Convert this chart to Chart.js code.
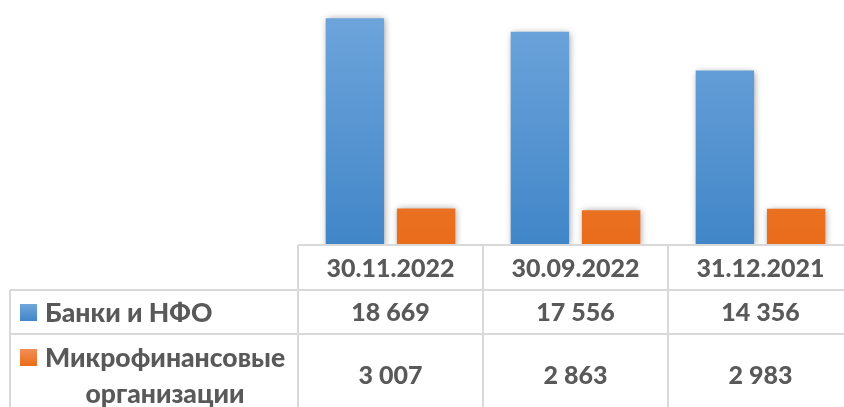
<!DOCTYPE html>
<html>
<head>
<meta charset="utf-8">
<script src="https://cdn.jsdelivr.net/npm/chart.js@4"></script>
<style>
  html, body { margin: 0; padding: 0; background: #fff; overflow: hidden; }
  #wrap { width: 856px; height: 407px; position: relative; }
</style>
</head>
<body>
<div id="wrap"><canvas id="chart"></canvas></div>
<script>
// data
var categories = ['30.11.2022', '30.09.2022', '31.12.2021'];
var banks = [18669, 17556, 14356];
var mfo = [3007, 2863, 2983];
var seriesNames = [['Банки и НФО'], ['Микрофинансовые', 'организации']];

var textColor = '#595959';
var lineColor = '#d9d9d9';
var font = '900 25px Lato, "Noto Sans", sans-serif';
var labelFont = '900 26.5px Lato, "Noto Sans", sans-serif';

function fmt(v) {
  return String(v).replace(/\B(?=(\d{3})+(?!\d))/g, ' ');
}

function grad(ctx, top, bottom, c1, c2) {
  var g = ctx.createLinearGradient(0, top, 0, bottom);
  g.addColorStop(0, c1);
  g.addColorStop(1, c2);
  return g;
}

var blueTop = '#70a6dc', blueBot = '#4186c8';
var orangeTop = '#f28e58', orangeBot = '#e96c19';

function barFill(c1, c2) {
  return function (context) {
    var area = context.chart.chartArea;
    if (!area) return c2;
    return grad(context.chart.ctx, area.top, area.bottom, c1, c2);
  };
}

// soft shadow behind the bars
var shadowPlugin = {
  id: 'shadow',
  beforeDatasetsDraw: function (chart) {
    var ctx = chart.ctx;
    ctx.save();
    ctx.shadowColor = 'rgba(0,0,0,0.4)';
    ctx.shadowBlur = 7;
    ctx.shadowOffsetX = 1;
    ctx.shadowOffsetY = 1;
  },
  afterDatasetsDraw: function (chart) {
    chart.ctx.restore();
  }
};

// data table under the bars
var tablePlugin = {
  id: 'dataTable',
  afterDraw: function (chart) {
    var ctx = chart.ctx;
    var area = chart.chartArea;
    var x = chart.scales.x;
    var colW = (area.right - area.left) / categories.length;
    var top = area.bottom;
    var rowY = [top, 290, 334, 430];
    var leftX = 10;

    ctx.save();
    ctx.strokeStyle = lineColor;
    ctx.lineWidth = 2;
    ctx.beginPath();
    ctx.moveTo(area.left, top); ctx.lineTo(area.right, top);
    ctx.moveTo(leftX, rowY[1]); ctx.lineTo(area.right, rowY[1]);
    ctx.moveTo(leftX, rowY[2]); ctx.lineTo(area.right, rowY[2]);
    ctx.moveTo(leftX, rowY[1]); ctx.lineTo(leftX, rowY[3]);
    for (var i = 0; i <= categories.length; i++) {
      var lx = area.left + i * colW;
      ctx.moveTo(lx, top); ctx.lineTo(lx, rowY[3]);
    }
    ctx.stroke();

    ctx.fillStyle = textColor;
    ctx.font = font;
    ctx.textAlign = 'center';
    ctx.textBaseline = 'middle';
    categories.forEach(function (c, i) {
      ctx.fillText(c, x.getPixelForValue(i), 269);
    });
    banks.forEach(function (v, i) {
      ctx.fillText(fmt(v), x.getPixelForValue(i), 313);
    });
    mfo.forEach(function (v, i) {
      ctx.fillText(fmt(v), x.getPixelForValue(i), 376);
    });

    // row headers with legend keys
    var keys = [[blueTop, blueBot], [orangeTop, orangeBot]];
    var firstY = [313, 358];
    ctx.font = labelFont;
    seriesNames.forEach(function (lines, r) {
      var y0 = firstY[r];
      ctx.fillStyle = grad(ctx, y0 - 9, y0 + 8, keys[r][0], keys[r][1]);
      ctx.fillRect(20, y0 - 9, 17, 17);
      ctx.fillStyle = textColor;
      var cx = 45 + ctx.measureText(lines[0]).width / 2;
      lines.forEach(function (t, k) {
        ctx.fillText(t, cx, y0 + k * 36);
      });
    });
    ctx.restore();
  }
};

new Chart(document.getElementById('chart'), {
  type: 'bar',
  data: {
    labels: categories,
    datasets: [
      { label: seriesNames[0].join(' '), data: banks, backgroundColor: barFill(blueTop, blueBot) },
      { label: seriesNames[1].join(' '), data: mfo, backgroundColor: barFill(orangeTop, orangeBot) }
    ]
  },
  options: {
    responsive: true,
    maintainAspectRatio: false,
    animation: false,
    layout: { padding: { left: 298, right: 3, top: 2, bottom: 162 } },
    datasets: { bar: { categoryPercentage: 0.77, barPercentage: 0.82 } },
    scales: {
      x: { display: false },
      y: { display: false, min: 0, max: 20000 }
    },
    plugins: { legend: { display: false }, tooltip: { enabled: false } }
  },
  plugins: [shadowPlugin, tablePlugin]
});
</script>
</body>
</html>
